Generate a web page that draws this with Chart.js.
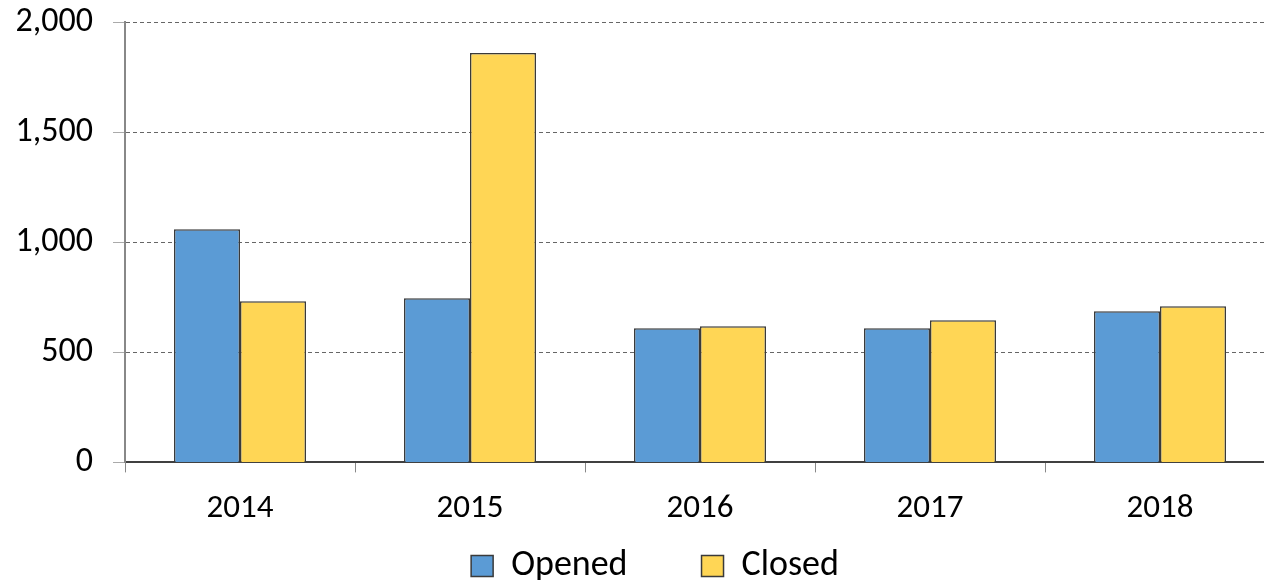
<!DOCTYPE html>
<html>
<head>
<meta charset="utf-8">
<script src="https://cdn.jsdelivr.net/npm/chart.js@4/dist/chart.umd.min.js"></script>
<style>
    html, body { margin: 0; padding: 0; background: #fff; overflow: hidden; }
    /* plot runs slightly past the right edge, as in the original */
    #wrap { width: 1275px; height: 580px; }
</style>
</head>
<body>
<div id="wrap"><canvas id="chart"></canvas></div>
<script>
const years = ['2014', '2015', '2016', '2017', '2018'];
const opened = [1059, 745, 609, 609, 686];
const closed = [732, 1859, 618, 645, 709];
const yTicks = [0, 500, 1000, 1500, 2000];

const ctx = document.getElementById('chart');
const fontFamily = 'Carlito, "Open Sans", sans-serif';

// nudge the legend row a little to the right, like the original
const legendShift = {
    id: 'legendShift',
    afterLayout(chart) {
        chart.legend.left += 35;
    }
};

new Chart(ctx, {
    type: 'bar',
    data: {
        labels: years,
        datasets: [{
            label: 'Opened',
            data: opened,
            backgroundColor: '#5B9BD5',
            borderColor: '#3a3a3a',
            borderWidth: 1.5,
            categoryPercentage: 0.574,
            barPercentage: 1
        }, {
            label: 'Closed',
            data: closed,
            backgroundColor: '#FFD655',
            borderColor: '#3a3a3a',
            borderWidth: 1.5,
            categoryPercentage: 0.574,
            barPercentage: 1
        }]
    },
    plugins: [legendShift],
    options: {
        responsive: true,
        maintainAspectRatio: false,
        animation: false,
        layout: {
            padding: { top: 22, right: 0, left: 0, bottom: -14 }
        },
        plugins: {
            tooltip: { enabled: false },
            legend: {
                position: 'bottom',
                labels: {
                    font: { size: 36, family: fontFamily },
                    color: '#000',
                    boxWidth: 22,
                    boxHeight: 21,
                    padding: 2,
                    generateLabels: (chart) => {
                        const items = Chart.defaults.plugins.legend.labels.generateLabels(chart);
                        // widen the gap between the two entries
                        items[0].text = items[0].text + '\u2002\u2002\u2002\u2002';
                        return items;
                    }
                }
            }
        },
        scales: {
            x: {
                grid: {
                    drawOnChartArea: false,
                    drawTicks: true,
                    tickLength: 10,
                    color: '#888',
                    offset: true
                },
                border: { color: '#404040', width: 2 },
                ticks: {
                    font: { size: 33, family: fontFamily },
                    color: '#000',
                    padding: 17
                }
            },
            y: {
                min: 0,
                max: 2000,
                afterBuildTicks: (scale) => {
                    scale.ticks = yTicks.map(v => ({ value: v }));
                },
                afterFit: (scale) => {
                    scale.width = 125;
                    scale.paddingTop = 0;
                    scale.paddingBottom = 0;
                },
                grid: {
                    color: '#666',
                    tickColor: '#aaa',
                    tickLength: 12,
                    lineWidth: 1
                },
                border: { color: '#888', width: 2, dash: [4, 3] },
                ticks: {
                    font: { size: 34, family: fontFamily },
                    color: '#000',
                    padding: 20,
                    callback: (v) => v.toLocaleString('en-US')
                }
            }
        }
    }
});
</script>
</body>
</html>
